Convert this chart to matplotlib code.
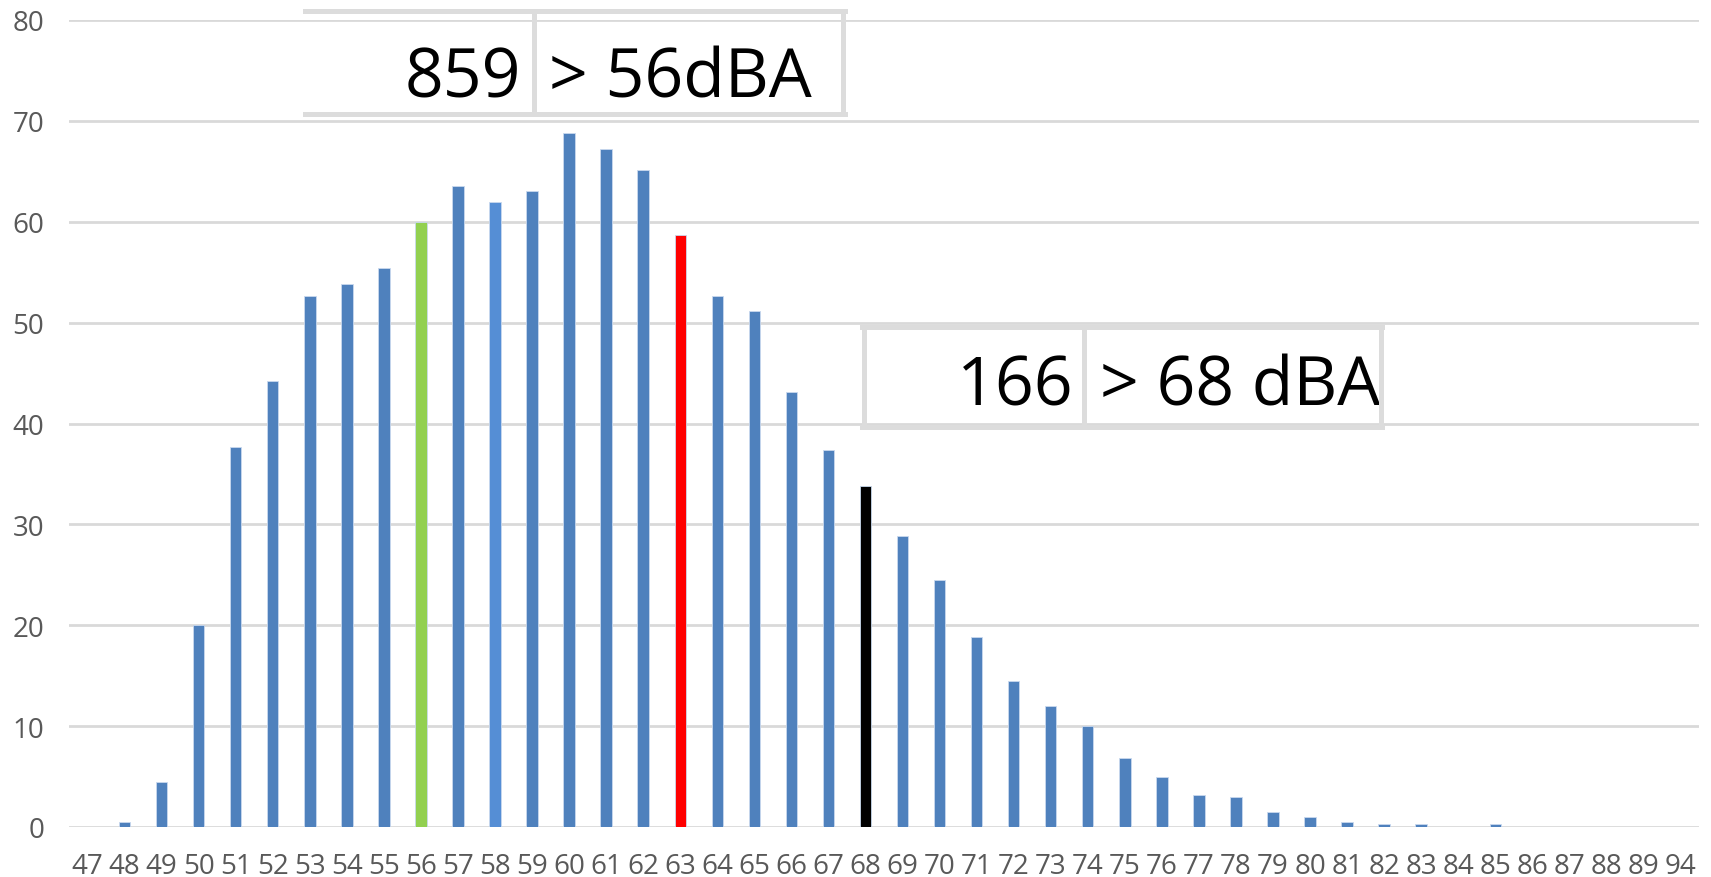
import matplotlib
matplotlib.use("Agg")
import matplotlib.pyplot as plt
from matplotlib.lines import Line2D

# ---- data ----
categories = ["47", "48", "49", "50", "51", "52", "53", "54", "55", "56", "57", "58",
              "59", "60", "61", "62", "63", "64", "65", "66", "67", "68", "69", "70",
              "71", "72", "73", "74", "75", "76", "77", "78", "79", "80", "81", "82",
              "83", "84", "85", "86", "87", "88", "89", "94"]
values = [0, 0.5, 4.5, 20, 37.7, 44.2, 52.6, 53.8, 55.4, 60, 63.5, 62.0,
          63.0, 68.8, 67.2, 65.1, 58.7, 52.6, 51.2, 43.1, 37.4, 33.8, 28.8, 24.5,
          18.8, 14.5, 12.0, 10.0, 6.8, 5.0, 3.2, 3.0, 1.5, 1.0, 0.5, 0.3,
          0.3, 0, 0.3, 0, 0, 0, 0, 0]
highlight = {"56": "#92D050", "58": "#558ED5", "63": "#FF0000", "68": "#000000"}
base_color = "#4F81BD"
yticks = [0, 10, 20, 30, 40, 50, 60, 70, 80]

box_counts = ["859", "166"]
box_labels = ["> 56dBA", "> 68 dBA"]

W, H = 1711, 878
fig = plt.figure(figsize=(W / 100, H / 100), dpi=100)
ax = fig.add_axes([69 / W, (H - 828) / H, (1699 - 69) / W, (828 - 21) / H])

colors = [highlight.get(c, base_color) for c in categories]
x = list(range(len(categories)))
ax.bar(x, values, width=0.31, color=colors, edgecolor="#C9D9EE", linewidth=0.6, zorder=3)

ax.set_xlim(-0.5, len(categories) - 0.5)
ax.set_ylim(0, 80)
ax.set_yticks(yticks)
ax.set_xticks(x)
ax.set_xticklabels(categories)
for s in ax.spines.values():
    s.set_visible(False)
ax.grid(axis="y", color="#D9D9D9", linewidth=2.0, zorder=0)
ax.set_axisbelow(True)
ax.tick_params(axis="both", length=0, labelcolor="#595959", labelsize=20)
ax.tick_params(axis="y", pad=18)
ax.tick_params(axis="x", pad=18)
for lab in ax.get_xticklabels() + ax.get_yticklabels():
    lab.set_family("Open Sans")


def px(xp, yp):
    return xp / W, 1 - yp / H


def hline(x0, x1, y):
    a, b = px(x0, y)
    c, _ = px(x1, y)
    fig.add_artist(Line2D([a, c], [b, b], transform=fig.transFigure, color="#DCDCDC", lw=3.6, zorder=5))


def vline(xp, y0, y1):
    a, b = px(xp, y0)
    _, d = px(xp, y1)
    fig.add_artist(Line2D([a, a], [b, d], transform=fig.transFigure, color="#DCDCDC", lw=3.6, zorder=5))


# box 1 (no left border)
hline(305, 845, 12)
hline(305, 845, 115)
vline(534, 12, 115)
vline(843, 12, 115)
# box 2
hline(862, 1382, 328)
hline(862, 1382, 428)
vline(864, 328, 428)
vline(1084, 328, 428)
vline(1381, 328, 428)

tf = dict(family="Open Sans", fontsize=49, color="black", va="baseline")
fig.text(*px(521, 97), box_counts[0], ha="right", **tf)
fig.text(*px(549, 97), box_labels[0], ha="left", **tf)
fig.text(*px(1074, 406), box_counts[1], ha="right", **tf)
fig.text(*px(1100, 406), box_labels[1], ha="left", **tf)

fig.savefig("out.png", dpi=100, facecolor="white")
